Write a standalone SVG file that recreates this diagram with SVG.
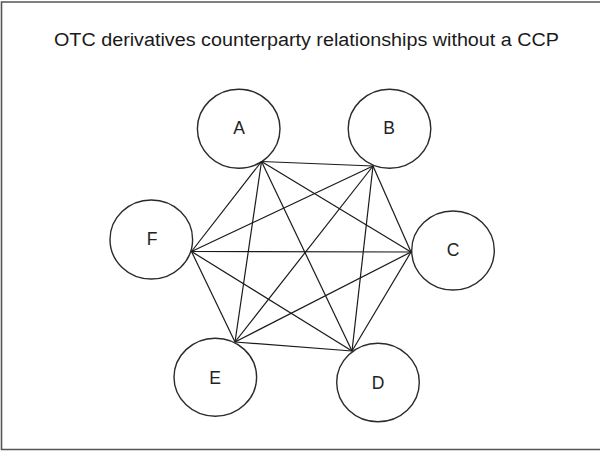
<svg xmlns="http://www.w3.org/2000/svg" width="600" height="451" viewBox="0 0 600 451">
<style>
.node ellipse{fill:#fff;stroke:#2a2a2a;stroke-width:1.4}
.node text{font-family:"Liberation Sans",Arial,sans-serif;font-size:17.5px;fill:#222;text-anchor:middle}
.title{font-family:"Liberation Sans",Arial,sans-serif;font-size:18px;fill:#1a1a1a}
#connectors line{stroke:#1a1a1a;stroke-width:1.2}
</style>
<rect x="0" y="0" width="600" height="451" fill="#fff"/>
<path d="M601 2 H1.5 V449.5 H601" fill="none" stroke="#555" stroke-width="1.6"/>
<text class="title" x="54" y="46" textLength="505" lengthAdjust="spacingAndGlyphs">OTC derivatives counterparty relationships without a CCP</text>
<g id="nodes">
<g id="node-A" class="node"><ellipse cx="238.7" cy="128.8" rx="41.3" ry="39.5"/><text x="239" y="134">A</text></g>
<g id="node-B" class="node"><ellipse cx="389.5" cy="128.8" rx="41.3" ry="39.5"/><text x="389" y="134">B</text></g>
<g id="node-C" class="node"><ellipse cx="453" cy="250.5" rx="41.3" ry="39.5"/><text x="453" y="256">C</text></g>
<g id="node-D" class="node"><ellipse cx="378" cy="382.5" rx="41.3" ry="39.2"/><text x="378" y="389">D</text></g>
<g id="node-E" class="node"><ellipse cx="215.3" cy="377.2" rx="41.3" ry="39"/><text x="215" y="383.5">E</text></g>
<g id="node-F" class="node"><ellipse cx="151.3" cy="239.5" rx="41.3" ry="39.5"/><text x="152" y="245">F</text></g>
</g>
<g id="connectors">
<line x1="261.5" y1="161.5" x2="373" y2="166"/>
<line x1="261.5" y1="161.5" x2="411" y2="252"/>
<line x1="261.5" y1="161.5" x2="352" y2="351"/>
<line x1="261.5" y1="161.5" x2="235" y2="342"/>
<line x1="261.5" y1="161.5" x2="191.5" y2="251.5"/>
<line x1="373" y1="166" x2="411" y2="252"/>
<line x1="373" y1="166" x2="352" y2="351"/>
<line x1="373" y1="166" x2="235" y2="342"/>
<line x1="373" y1="166" x2="191.5" y2="251.5"/>
<line x1="411" y1="252" x2="352" y2="351"/>
<line x1="411" y1="252" x2="235" y2="342"/>
<line x1="411" y1="252" x2="191.5" y2="251.5"/>
<line x1="352" y1="351" x2="235" y2="342"/>
<line x1="352" y1="351" x2="191.5" y2="251.5"/>
<line x1="235" y1="342" x2="191.5" y2="251.5"/>
</g>
</svg>
